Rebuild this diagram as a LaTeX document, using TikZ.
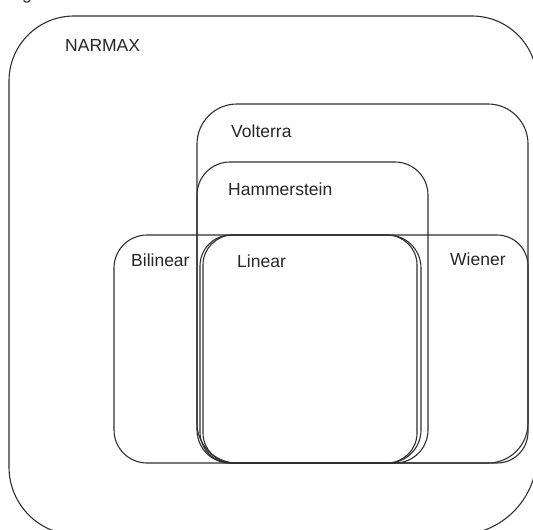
\documentclass[tikz,border=0pt]{standalone}
\usepackage{fontspec}
\setmainfont{Liberation Sans}
\begin{document}
\begin{tikzpicture}[x=1pt,y=-1pt,
  setline/.style={draw=black!82,line width=1.1pt},
  setbox/.style={setline,rounded corners=#1},
  setname/.style={anchor=base west,inner sep=0pt,text=black!85,
    font=\fontsize{17.5}{20}\selectfont}]
\useasboundingbox (0,0) rectangle (533,530);

% caption fragment above the diagram
\node[setname] (capg) at (22,-1) {g};

% NARMAX: the enclosing class
\draw[setline] (9,81) arc[start angle=180,end angle=270,radius=65]
  -- (472,16) arc[start angle=270,end angle=360,radius=65]
  -- (537,455) arc[start angle=0,end angle=90,radius=80]
  -- (77,535) arc[start angle=90,end angle=180,radius=68] -- cycle;

% nested model classes
\draw[setbox=40pt] (197,104) rectangle (528,463);   % Volterra
\draw[setbox=33pt] (197,162) rectangle (428,463);   % Hammerstein
\draw[setbox=33pt] (114,235) rectangle (421,463);   % Bilinear
\draw[setbox=31pt] (200,235) rectangle (528,463);   % Wiener
\draw[setbox=30pt] (203,235) rectangle (417,463);   % Linear

% class names
\node[setname] (narmax) at (65,51)  {NARMAX};
\node[setname] (volt)   at (231,137) {Volterra};
\node[setname] (hamm)   at (228,195) {Hammerstein};
\node[setname] (bilin)  at (131,266) {Bilinear};
\node[setname] (lin)    at (237,267) {Linear};
\node[setname] (wien)   at (450,265) {Wiener};
\end{tikzpicture}
\end{document}
